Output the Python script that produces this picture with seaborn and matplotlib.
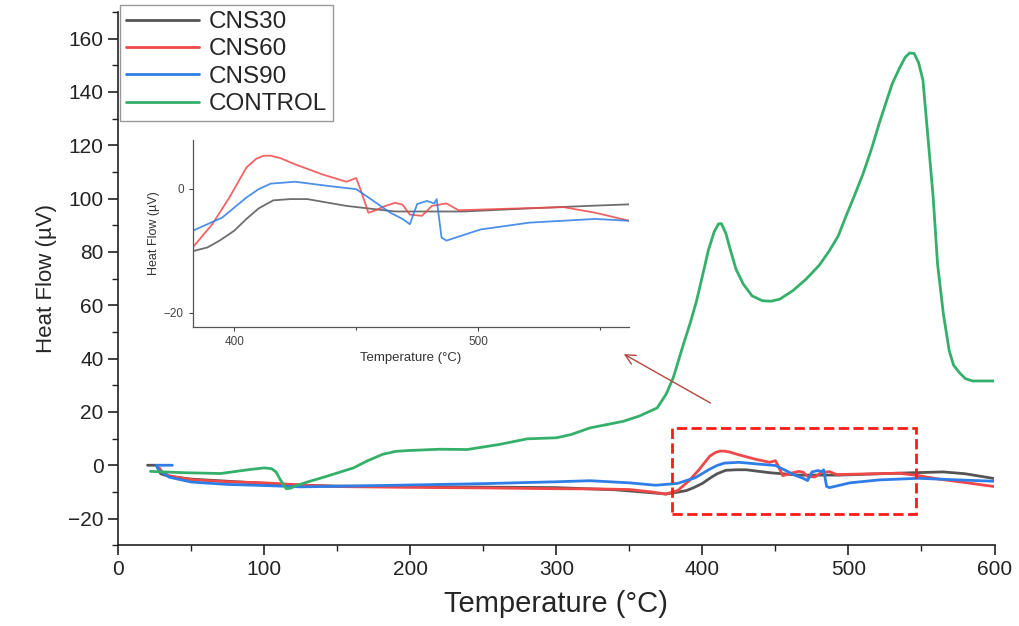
import numpy as np
import pandas as pd
import seaborn as sns
import matplotlib
matplotlib.use("Agg")
import matplotlib.pyplot as plt
from matplotlib.patches import Rectangle
from matplotlib.ticker import MultipleLocator

# series (temperature in C, heat flow in uV)
cns30_t = [20, 26, 29, 35, 50, 75, 100, 125, 150, 200, 250, 300, 340, 365, 375, 383, 389, 394, 400,
           405, 410, 416, 423, 430, 446, 466, 494, 521, 545, 565, 580, 600]
cns30_v = [0, 0, -3.2, -4.2, -5.2, -6.0, -6.8, -7.5, -7.8, -8.0, -8.2, -8.4, -9.2, -10.3, -10.8,
           -10.1, -9.5, -8.4, -6.8, -4.9, -3.2, -1.9, -1.7, -1.7, -2.8, -3.7, -3.7, -3.2, -2.8, -2.5,
           -3.2, -5.0]

cns60_t = [28, 30, 35, 50, 75, 100, 125, 150, 200, 250, 300, 330, 350, 365, 375, 383, 391, 398, 405,
           409, 412, 415, 419, 425, 436, 446, 450, 452, 455, 458, 462, 466, 469, 472, 477, 481, 487,
           492, 508, 535, 548, 562, 580, 600]
cns60_v = [-1, -2.5, -4, -5.4, -6.2, -6.6, -7.4, -8.0, -8.3, -8.5, -8.8, -8.9, -9.1, -10, -10.8, -9.5,
           -5.75, -1.45, 3.4, 4.8, 5.3, 5.3, 4.9, 3.9, 2.3, 1.1, 1.7, -0.4, -3.9, -3.5, -2.8, -2.3,
           -2.6, -4.2, -4.4, -2.8, -2.4, -3.5, -3.3, -3.0, -3.9, -5.2, -6.5, -8.0]

cns90_t = [37, 26, 28, 35, 50, 75, 100, 125, 150, 200, 250, 300, 323, 350, 368, 383, 395, 405, 410,
           415, 425, 439, 450, 456, 464, 469, 472, 475, 479, 482, 483, 485, 487, 501, 521, 548, 562,
           580, 600]
cns90_v = [0, 0, -2, -4.5, -6.3, -7.2, -7.6, -8.1, -7.9, -7.4, -6.9, -6.2, -5.8, -6.6, -7.5, -6.8,
           -4.7, -1.45, -0.1, 0.8, 1.1, 0.4, -0.1, -1.7, -3.9, -4.9, -5.75, -2.5, -2.0, -2.4, -1.7,
           -7.9, -8.4, -6.6, -5.5, -4.9, -5.2, -5.6, -6.0]

control_t = [22, 45, 70, 90, 100, 105, 108, 111, 115, 118, 122, 130, 143, 161, 170, 181, 190, 198,
             220, 239, 261, 280, 300, 310, 323, 346, 357, 369, 375, 380, 387, 392, 396, 400, 404, 408,
             411, 413, 416, 419, 423, 428, 434, 441, 447, 453, 462, 471, 480, 487, 493, 498, 504, 510,
             516, 521, 526, 530, 535, 539, 542, 545, 548, 551, 554, 558, 561, 565, 569, 572, 576, 580,
             585, 600]
control_v = [-2.3, -2.8, -3.1, -1.6, -1.0, -1.3, -2.5, -5.5, -8.8, -8.6, -7.6, -6.2, -4.1, -1.0, 1.5,
             4.1, 5.2, 5.5, 6.0, 5.9, 7.8, 9.9, 10.3, 11.5, 14.0, 16.5, 18.5, 21.5, 26.5, 32.8, 45.4,
             54, 61.7, 71, 80.5, 87.5, 90.5, 90.6, 87, 81, 73.5, 67.9, 63.5, 61.7, 61.5, 62.3, 65.5,
             69.8, 75, 80.5, 86, 93, 101, 109.3, 119, 128.1, 136.5, 143.1, 149, 153.1, 154.6, 154.4,
             151, 144.4, 125.6, 100.5, 75.5, 56.7, 42.9, 37.5, 34.7, 32.5, 31.6, 31.6]

names = ["CNS30", "CNS60", "CNS90", "CONTROL"]
colors = ["#555555", "#f04848", "#2f7de6", "#35b06a"]

frames = []
for name, t, v in zip(names, [cns30_t, cns60_t, cns90_t, control_t],
                      [cns30_v, cns60_v, cns90_v, control_v]):
    frames.append(pd.DataFrame({"Temperature": t, "HeatFlow": v, "Sample": name}))
df = pd.concat(frames, ignore_index=True)

sns.set_style("ticks")
plt.rcParams["font.family"] = ["Liberation Sans", "DejaVu Sans"]
plt.rcParams["lines.solid_joinstyle"] = "round"
plt.rcParams["lines.solid_capstyle"] = "round"

fig = plt.figure(figsize=(10.2, 6.26), dpi=100)
ax = fig.add_axes([0.116, 0.129, 0.859, 0.852])

sns.lineplot(data=df, x="Temperature", y="HeatFlow", hue="Sample", hue_order=names,
             palette=colors, sort=False, estimator=None, linewidth=2.0, legend=False, ax=ax)

ax.set_xlim(0, 600)
ax.set_ylim(-30, 170)
ax.xaxis.set_major_locator(MultipleLocator(100))
ax.xaxis.set_minor_locator(MultipleLocator(50))
ax.yaxis.set_major_locator(MultipleLocator(20))
ax.yaxis.set_minor_locator(MultipleLocator(10))
ax.tick_params(which="major", direction="out", length=7, width=1.2, labelsize=15, colors="#222222")
ax.tick_params(which="minor", direction="out", length=4, width=1.0, colors="#222222")
for s in ["top", "right"]:
    ax.spines[s].set_visible(False)
for s in ["left", "bottom"]:
    ax.spines[s].set_linewidth(1.2)
    ax.spines[s].set_color("#222222")
ax.set_xlabel("Temperature (°C)", fontsize=21, labelpad=8)
ax.set_ylabel("Heat Flow (µV)", fontsize=16, labelpad=8)

leg = ax.legend(ax.lines[:4], names, loc="upper left", bbox_to_anchor=(0.002, 1.013),
                borderaxespad=0, fontsize=17.5, handlelength=3.0, handletextpad=0.4,
                labelspacing=0.22, borderpad=0.25, fancybox=False, framealpha=1)
leg.get_frame().set_edgecolor("#999999")
leg.get_frame().set_linewidth(1.0)

# dashed zoom box and arrow to the inset
ax.add_patch(Rectangle((379, -18.4), 167.5, 32.3, fill=False, edgecolor="#ff1a1a",
                       linestyle="--", linewidth=2.0, zorder=5))
ax.annotate("", xy=(344.5, 42.2), xytext=(407.2, 22.8),
            arrowprops=dict(arrowstyle="->", color="#b5473f", lw=1.0, mutation_scale=18))

# inset
axin = fig.add_axes([0.189, 0.478, 0.428, 0.299])
sns.lineplot(data=df[df["Sample"] != "CONTROL"], x="Temperature", y="HeatFlow", hue="Sample",
             hue_order=names[:3], palette=colors[:3], sort=False, estimator=None,
             linewidth=1.3, legend=False, ax=axin, alpha=0.85)
axin.set_xlim(383, 562)
axin.set_ylim(-22.3, 7.9)
axin.set_xticks([400, 500])
axin.xaxis.set_minor_locator(MultipleLocator(50))
axin.set_yticks([0, -20])
axin.tick_params(which="major", direction="out", length=3, width=0.8, labelsize=8.5, colors="#444444")
axin.tick_params(which="minor", direction="out", length=2, width=0.8, colors="#444444")
for s in ["top", "right"]:
    axin.spines[s].set_visible(False)
for s in ["left", "bottom"]:
    axin.spines[s].set_color("#555555")
    axin.spines[s].set_linewidth(0.9)
axin.set_xlabel("Temperature (°C)", fontsize=9.5, labelpad=3, color="#333333")
axin.set_ylabel("Heat Flow (µV)", fontsize=9, labelpad=3, color="#333333")
axin.set_facecolor("white")

fig.savefig("out.png", dpi=100)
